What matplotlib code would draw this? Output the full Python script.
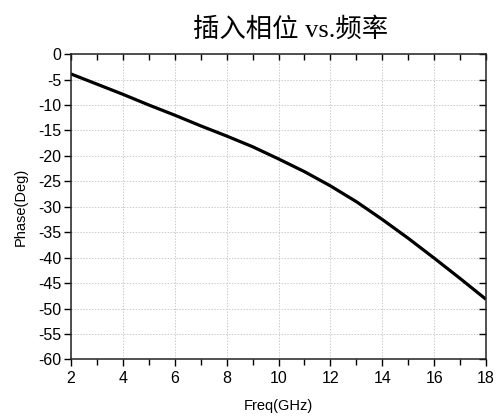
import matplotlib.pyplot as plt
from matplotlib.ticker import MultipleLocator

freq_ghz = [2, 3, 4, 5, 6, 7, 8, 9, 10, 11, 12, 13, 14, 15, 16, 17, 18]
phase_deg = [-3.9, -5.9, -7.9, -10.0, -12.0, -14.1, -16.1, -18.2, -20.6,
             -23.1, -25.9, -29.0, -32.5, -36.2, -40.1, -44.1, -48.2]

plt.rcParams["font.family"] = ["Liberation Sans", "DejaVu Sans"]
plt.rcParams["axes.unicode_minus"] = False

fig = plt.figure(figsize=(4.96, 4.16), dpi=100)
ax = fig.add_axes([0.143, 0.136, 0.837, 0.734])

ax.plot(freq_ghz, phase_deg, color="black", linewidth=2.3, solid_capstyle="butt")

ax.set_xlim(2, 18)
ax.set_ylim(-60, 0)
ax.xaxis.set_major_locator(MultipleLocator(2))
ax.xaxis.set_minor_locator(MultipleLocator(1))
ax.yaxis.set_major_locator(MultipleLocator(5))

ax.grid(True, which="major", color="#cccccc", linestyle=(0, (1.5, 1.5)), linewidth=0.7)
ax.set_axisbelow(True)

for side in ("left", "right", "top", "bottom"):
    ax.spines[side].set_linewidth(1.1)
    ax.spines[side].set_color("#222222")

ax.tick_params(axis="y", which="both", direction="out", length=5, width=1,
               labelsize=11.5, pad=2, right=True)
ax.tick_params(axis="x", which="both", direction="out", length=5, width=1,
               labelsize=11.5, pad=3, top=True)
ax.tick_params(axis="x", which="minor", length=4)

# mirrored ticks on the right/top point into the plot
for tk in ax.yaxis.get_major_ticks():
    tk.tick2line.set_marker(0)
    tk.tick2line.set_markersize(5)
for tk in ax.xaxis.get_major_ticks() + ax.xaxis.get_minor_ticks():
    tk.tick2line.set_marker(3)
    tk.tick2line.set_markersize(4.5)

ax.set_xlabel("Freq(GHz)", fontsize=10.5, labelpad=10)
ax.set_ylabel("Phase(Deg)", fontsize=10.5, labelpad=7)

fig.text(0.585, 0.93, "插入相位 vs.频率", ha="center", va="center", fontsize=19,
         fontweight="light", family=["Liberation Serif", "Noto Sans CJK SC"])

fig.savefig("out.png", dpi=100)
